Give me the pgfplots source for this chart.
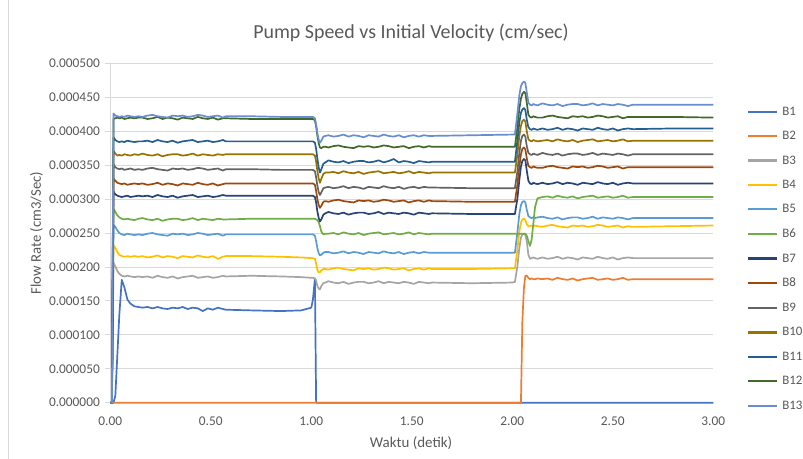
\documentclass[border=0pt]{standalone}
\usepackage{fontspec}
\setmainfont{Carlito}
\usepackage{pgfplots}
\usepackage{pgfplotstable}
\pgfplotsset{compat=1.18}
\definecolor{cB1}{HTML}{4472C4}
\definecolor{cB2}{HTML}{ED7D31}
\definecolor{cB3}{HTML}{A5A5A5}
\definecolor{cB4}{HTML}{FFC000}
\definecolor{cB5}{HTML}{5B9BD5}
\definecolor{cB6}{HTML}{70AD47}
\definecolor{cB7}{HTML}{264478}
\definecolor{cB8}{HTML}{9E480E}
\definecolor{cB9}{HTML}{636363}
\definecolor{cB10}{HTML}{997300}
\definecolor{cB11}{HTML}{255E91}
\definecolor{cB12}{HTML}{43682B}
\definecolor{cB13}{HTML}{698ED0}
\definecolor{txt}{HTML}{595959}
\definecolor{gridc}{HTML}{D9D9D9}

\pgfplotstableread{
x B1 B2 B3 B4 B5 B6 B7 B8 B9 B10 B11 B12 B13
0 0 0 0 0 0 0 0 0 0 0 0 0 0
0.008 0 0 0 0 0 0 0 0 0 0 0 0 0
0.016 0 0 0.000206 0.000232 0.000262 0.000286 0.000311 0.000330 0.000351 0.000371 0.000391 0.000418 0.000426
0.025 0.000010 0 0.000201 0.000228 0.000259 0.000281 0.000307 0.000327 0.000347 0.000367 0.000387 0.000419 0.000423
0.035 0.000070 0 0.000194 0.000222 0.000254 0.000276 0.000305 0.000324 0.000345 0.000364 0.000385 0.000420 0.000422
0.045 0.000130 0 0.000190 0.000218 0.000250 0.000273 0.000304 0.000323 0.000344 0.000365 0.000384 0.000419 0.000421
0.057 0.000181 0 0.000187 0.000216 0.000248 0.000271 0.000303 0.000322 0.000345 0.000364 0.000385 0.000420 0.000422
0.07 0.000170 0 0.000186 0.000215 0.000247 0.000270 0.000304 0.000323 0.000343 0.000366 0.000384 0.000418 0.000421
0.085 0.000152 0 0.000187 0.000216 0.000249 0.000271 0.000305 0.000321 0.000344 0.000365 0.000386 0.000419 0.000423
0.1 0.000146 0 0.000186 0.000215 0.000248 0.000270 0.000303 0.000322 0.000345 0.000364 0.000385 0.000420 0.000422
0.12 0.000142 0 0.000185 0.000216 0.000247 0.000269 0.000304 0.000323 0.000343 0.000366 0.000384 0.000419 0.000421
0.14 0.000141 0 0.000186 0.000215 0.000248 0.000271 0.000305 0.000322 0.000344 0.000365 0.000385 0.000420 0.000422
0.16 0.000140 0 0.000185 0.000216 0.000247 0.000272 0.000304 0.000323 0.000343 0.000367 0.000385 0.000420 0.000421
0.185 0.000141 0 0.000186 0.000214 0.000249 0.000270 0.000305 0.000321 0.000345 0.000365 0.000386 0.000418 0.000423
0.21 0.000139 0 0.000184 0.000215 0.000250 0.000269 0.000303 0.000322 0.000346 0.000364 0.000384 0.000419 0.000424
0.235 0.000141 0 0.000187 0.000217 0.000248 0.000271 0.000306 0.000324 0.000344 0.000366 0.000387 0.000421 0.000422
0.26 0.000139 0 0.000185 0.000214 0.000247 0.000268 0.000304 0.000321 0.000343 0.000363 0.000385 0.000418 0.000421
0.285 0.000138 0 0.000184 0.000216 0.000246 0.000270 0.000303 0.000323 0.000342 0.000365 0.000384 0.000420 0.000420
0.31 0.000140 0 0.000186 0.000215 0.000249 0.000271 0.000305 0.000322 0.000345 0.000366 0.000386 0.000419 0.000423
0.335 0.000139 0 0.000183 0.000213 0.000248 0.000271 0.000302 0.000320 0.000344 0.000366 0.000383 0.000417 0.000422
0.36 0.000141 0 0.000185 0.000216 0.000249 0.000269 0.000304 0.000323 0.000345 0.000364 0.000385 0.000420 0.000423
0.385 0.000138 0 0.000186 0.000215 0.000247 0.000270 0.000305 0.000322 0.000343 0.000365 0.000386 0.000419 0.000421
0.41 0.000140 0 0.000187 0.000214 0.000248 0.000272 0.000306 0.000321 0.000344 0.000367 0.000387 0.000418 0.000422
0.435 0.000139 0 0.000184 0.000217 0.000250 0.000269 0.000303 0.000324 0.000346 0.000364 0.000384 0.000421 0.000424
0.46 0.000135 0 0.000185 0.000215 0.000249 0.000271 0.000304 0.000322 0.000345 0.000366 0.000385 0.000419 0.000423
0.485 0.000139 0 0.000186 0.000214 0.000247 0.000270 0.000305 0.000321 0.000343 0.000365 0.000386 0.000418 0.000421
0.51 0.000137 0 0.000184 0.000216 0.000248 0.000269 0.000303 0.000323 0.000344 0.000364 0.000384 0.000420 0.000422
0.535 0.000140 0 0.000185 0.000212 0.000249 0.000271 0.000304 0.000320 0.000345 0.000366 0.000385 0.000417 0.000423
0.56 0.000138 0 0.000187 0.000215 0.000246 0.000270 0.000306 0.000322 0.000342 0.000365 0.000387 0.000419 0.000420
0.575 0.000137 0 0.000186 0.000216 0.000248 0.000270 0.000305 0.000323 0.000344 0.000366 0.000385 0.000419 0.000422
0.7 0.000136 0 0.000187 0.000216 0.000248 0.000271 0.000305 0.000323 0.000344 0.000366 0.000385 0.000418 0.000422
0.85 0.000135 0 0.000186 0.000215 0.000248 0.000271 0.000305 0.000323 0.000343 0.000366 0.000385 0.000418 0.000421
0.95 0.000136 0 0.000185 0.000214 0.000248 0.000271 0.000305 0.000323 0.000343 0.000366 0.000385 0.000418 0.000421
1.0 0.000140 0 0.000184 0.000213 0.000248 0.000271 0.000305 0.000323 0.000343 0.000366 0.000385 0.000418 0.000421
1.008 0.000152 0 0.000184 0.000213 0.000248 0.000271 0.000305 0.000323 0.000343 0.000366 0.000385 0.000418 0.000421
1.018 0.000183 0 0.000183 0.000212 0.000246 0.000271 0.000303 0.000321 0.000341 0.000364 0.000383 0.000416 0.000419
1.024 0 0 0.000180 0.000205 0.000238 0.000270 0.000295 0.000312 0.000332 0.000355 0.000374 0.000407 0.000410
1.03 0 0 0.000172 0.000196 0.000228 0.000269 0.000282 0.000300 0.000320 0.000342 0.000360 0.000394 0.000397
1.037 0 0 0.000168 0.000192 0.000220 0.000266 0.000272 0.000291 0.000310 0.000330 0.000346 0.000382 0.000387
1.043 0 0 0.000167 0.000192 0.000217 0.000260 0.000267 0.000287 0.000306 0.000324 0.000339 0.000376 0.000383
1.05 0 0 0.000172 0.000195 0.000218 0.000252 0.000270 0.000290 0.000310 0.000330 0.000344 0.000375 0.000386
1.06 0 0 0.000176 0.000197 0.000221 0.000248 0.000277 0.000296 0.000316 0.000337 0.000352 0.000377 0.000392
1.07 0 0 0.000177 0.000197 0.000222 0.000249 0.000279 0.000297 0.000317 0.000339 0.000354 0.000377 0.000393
1.085 0 0 0.000179 0.000196 0.000222 0.000249 0.000281 0.000296 0.000318 0.000339 0.000357 0.000376 0.000394
1.11 0 0 0.000177 0.000198 0.000220 0.000250 0.000279 0.000298 0.000316 0.000340 0.000355 0.000378 0.000392
1.135 0 0 0.000176 0.000199 0.000221 0.000248 0.000278 0.000299 0.000317 0.000338 0.000354 0.000379 0.000393
1.16 0 0 0.000178 0.000197 0.000223 0.000251 0.000280 0.000297 0.000319 0.000341 0.000356 0.000377 0.000395
1.185 0 0 0.000175 0.000196 0.000220 0.000249 0.000277 0.000296 0.000316 0.000339 0.000353 0.000376 0.000392
1.21 0 0 0.000177 0.000195 0.000222 0.000248 0.000279 0.000295 0.000318 0.000338 0.000355 0.000375 0.000394
1.235 0 0 0.000178 0.000198 0.000221 0.000250 0.000280 0.000298 0.000317 0.000340 0.000356 0.000378 0.000393
1.26 0 0 0.000178 0.000197 0.000219 0.000247 0.000280 0.000297 0.000315 0.000337 0.000356 0.000377 0.000391
1.285 0 0 0.000176 0.000198 0.000222 0.000249 0.000278 0.000298 0.000318 0.000339 0.000354 0.000378 0.000394
1.31 0 0 0.000177 0.000196 0.000221 0.000250 0.000279 0.000296 0.000317 0.000340 0.000355 0.000376 0.000393
1.335 0 0 0.000179 0.000197 0.000220 0.000251 0.000281 0.000297 0.000316 0.000341 0.000357 0.000377 0.000392
1.36 0 0 0.000176 0.000199 0.000223 0.000248 0.000278 0.000299 0.000319 0.000338 0.000354 0.000379 0.000395
1.385 0 0 0.000178 0.000198 0.000221 0.000249 0.000280 0.000298 0.000317 0.000339 0.000356 0.000378 0.000393
1.41 0 0 0.000177 0.000196 0.000220 0.000250 0.000279 0.000296 0.000316 0.000340 0.000359 0.000376 0.000392
1.435 0 0 0.000176 0.000197 0.000222 0.000248 0.000278 0.000297 0.000318 0.000338 0.000354 0.000377 0.000394
1.46 0 0 0.000178 0.000198 0.000219 0.000249 0.000280 0.000298 0.000315 0.000339 0.000356 0.000378 0.000391
1.485 0 0 0.000177 0.000195 0.000221 0.000251 0.000279 0.000295 0.000317 0.000341 0.000355 0.000375 0.000393
1.51 0 0 0.000175 0.000197 0.000222 0.000248 0.000277 0.000297 0.000318 0.000338 0.000353 0.000377 0.000394
1.535 0 0 0.000178 0.000198 0.000220 0.000250 0.000280 0.000298 0.000316 0.000340 0.000356 0.000378 0.000392
1.56 0 0 0.000177 0.000196 0.000222 0.000249 0.000279 0.000296 0.000318 0.000339 0.000355 0.000376 0.000394
1.585 0 0 0.000176 0.000198 0.000221 0.000248 0.000278 0.000298 0.000317 0.000338 0.000354 0.000378 0.000393
1.6 0 0 0.000177 0.000197 0.000221 0.000249 0.000279 0.000297 0.000317 0.000339 0.000355 0.000377 0.000393
1.8 0 0 0.000176 0.000197 0.000221 0.000249 0.000278 0.000296 0.000316 0.000339 0.000355 0.000377 0.000394
2.0 0 0 0.000177 0.000198 0.000221 0.000249 0.000278 0.000296 0.000316 0.000339 0.000355 0.000377 0.000395
2.013 0 0 0.000178 0.000198 0.000221 0.000249 0.000278 0.000296 0.000316 0.000339 0.000355 0.000377 0.000395
2.025 0 0 0.000200 0.000225 0.000250 0.000249 0.000300 0.000320 0.000340 0.000365 0.000385 0.000405 0.000425
2.035 0 0 0.000228 0.000252 0.000278 0.000249 0.000328 0.000348 0.000368 0.000393 0.000413 0.000433 0.000453
2.043 0 0 0.000243 0.000265 0.000291 0.000249 0.000348 0.000366 0.000386 0.000408 0.000427 0.000448 0.000466
2.05 0 0.000120 0.000248 0.000270 0.000296 0.000249 0.000356 0.000374 0.000393 0.000415 0.000432 0.000455 0.000471
2.058 0 0.000170 0.000249 0.000271 0.000297 0.000249 0.000359 0.000376 0.000395 0.000417 0.000434 0.000458 0.000473
2.065 0 0.000187 0.000247 0.000269 0.000295 0.000249 0.000357 0.000373 0.000392 0.000414 0.000431 0.000456 0.000471
2.072 0 0.000187 0.000238 0.000263 0.000284 0.000246 0.000342 0.000360 0.000378 0.000400 0.000417 0.000442 0.000457
2.08 0 0.000184 0.000218 0.000260 0.000275 0.000238 0.000327 0.000349 0.000368 0.000388 0.000406 0.000424 0.000442
2.088 0 0.000182 0.000212 0.000260 0.000273 0.000231 0.000323 0.000347 0.000366 0.000386 0.000403 0.000421 0.000439
2.096 0 0.000183 0.000213 0.000261 0.000272 0.000240 0.000322 0.000346 0.000365 0.000385 0.000402 0.000420 0.000438
2.105 0 0.000182 0.000214 0.000260 0.000273 0.000265 0.000324 0.000348 0.000367 0.000387 0.000404 0.000422 0.000440
2.113 0 0.000182 0.000213 0.000261 0.000272 0.000288 0.000323 0.000347 0.000366 0.000386 0.000403 0.000421 0.000439
2.125 0 0.000183 0.000212 0.000260 0.000273 0.000301 0.000322 0.000346 0.000365 0.000385 0.000402 0.000420 0.000438
2.15 0 0.000182 0.000214 0.000259 0.000274 0.000303 0.000324 0.000346 0.000368 0.000386 0.000404 0.000420 0.000441
2.175 0 0.000183 0.000212 0.000261 0.000272 0.000304 0.000322 0.000348 0.000366 0.000387 0.000402 0.000422 0.000439
2.2 0 0.000181 0.000213 0.000262 0.000271 0.000302 0.000323 0.000349 0.000365 0.000385 0.000403 0.000423 0.000438
2.225 0 0.000184 0.000215 0.000260 0.000273 0.000305 0.000325 0.000347 0.000367 0.000388 0.000405 0.000421 0.000440
2.25 0 0.000182 0.000212 0.000259 0.000270 0.000303 0.000322 0.000346 0.000364 0.000386 0.000402 0.000420 0.000437
2.275 0 0.000181 0.000214 0.000258 0.000272 0.000302 0.000324 0.000345 0.000366 0.000385 0.000404 0.000419 0.000439
2.3 0 0.000183 0.000213 0.000261 0.000273 0.000304 0.000323 0.000348 0.000367 0.000387 0.000403 0.000422 0.000440
2.325 0 0.000180 0.000211 0.000260 0.000273 0.000301 0.000321 0.000347 0.000367 0.000384 0.000401 0.000421 0.000440
2.35 0 0.000182 0.000214 0.000261 0.000271 0.000303 0.000324 0.000348 0.000365 0.000386 0.000404 0.000422 0.000438
2.375 0 0.000183 0.000213 0.000259 0.000272 0.000304 0.000323 0.000346 0.000366 0.000387 0.000403 0.000420 0.000439
2.4 0 0.000184 0.000212 0.000260 0.000274 0.000305 0.000322 0.000347 0.000368 0.000388 0.000402 0.000421 0.000441
2.425 0 0.000181 0.000215 0.000262 0.000271 0.000302 0.000325 0.000349 0.000365 0.000385 0.000405 0.000423 0.000438
2.45 0 0.000182 0.000213 0.000261 0.000273 0.000303 0.000323 0.000348 0.000367 0.000386 0.000403 0.000422 0.000440
2.475 0 0.000183 0.000212 0.000259 0.000272 0.000304 0.000322 0.000346 0.000366 0.000387 0.000402 0.000420 0.000439
2.5 0 0.000181 0.000214 0.000260 0.000271 0.000302 0.000324 0.000347 0.000365 0.000385 0.000404 0.000421 0.000438
2.525 0 0.000182 0.000211 0.000261 0.000273 0.000303 0.000321 0.000348 0.000367 0.000386 0.000401 0.000422 0.000440
2.55 0 0.000184 0.000213 0.000258 0.000272 0.000305 0.000323 0.000345 0.000366 0.000388 0.000403 0.000419 0.000439
2.575 0 0.000181 0.000214 0.000260 0.000270 0.000302 0.000324 0.000347 0.000364 0.000385 0.000404 0.000421 0.000437
2.6 0 0.000182 0.000213 0.000259 0.000272 0.000303 0.000323 0.000347 0.000366 0.000386 0.000403 0.000421 0.000439
2.8 0 0.000182 0.000213 0.000260 0.000272 0.000303 0.000323 0.000347 0.000366 0.000386 0.000404 0.000421 0.000439
3.0 0 0.000182 0.000213 0.000261 0.000272 0.000303 0.000323 0.000347 0.000366 0.000386 0.000404 0.000420 0.000439
}\flowdata

\begin{document}
\begin{tikzpicture}
\useasboundingbox (0,0) rectangle (803bp,459bp);
\draw[gridc, line width=0.8bp] (8bp,0) -- (8bp,459bp);
\begin{axis}[
  at={(110.3bp,56.3bp)}, anchor=south west,
  scale only axis, width=603bp, height=339.4bp,
  xmin=0, xmax=3, ymin=0, ymax=0.0005,
  clip=false,
  axis x line*=bottom, axis y line*=left,
  axis line style={draw=gridc, line width=0.8bp},
  xtick={0,0.5,1,1.5,2,2.5,3},
  ytick={0,0.00005,0.0001,0.00015,0.0002,0.00025,0.0003,0.00035,0.0004,0.00045,0.0005},
  scaled y ticks=false, scaled x ticks=false,
  /pgf/number format/assume math mode=true,
  xticklabel style={/pgf/number format/fixed, /pgf/number format/fixed zerofill, /pgf/number format/precision=2, yshift=-6bp},
  yticklabel style={/pgf/number format/fixed, /pgf/number format/fixed zerofill, /pgf/number format/precision=6, xshift=-2bp},
  tick label style={font=\fontsize{13.4}{15}\selectfont, text=txt},
  ymajorgrids, grid style={gridc, line width=0.8bp},
  xtick style={draw=none},
  ytick style={draw=gridc, line width=0.8bp},
  tick align=outside, major tick length=5bp,
  title={Pump Speed vs Initial Velocity (cm/sec)},
  title style={at={(0.4987,1.072)}, anchor=center, font=\fontsize{20}{23}\selectfont, text=txt},
  xlabel={Waktu (detik)},
  xlabel style={at={(0.4987,-0.119)}, anchor=center, font=\fontsize{15}{17}\selectfont, text=txt},
  ylabel={Flow Rate (cm3/Sec)},
  ylabel style={at={(-0.1225,0.5)}, anchor=center, font=\fontsize{14.8}{17}\selectfont, text=txt},
  no markers,
  every axis plot/.append style={line width=1.7bp, line join=round},
  legend cell align=left,
  legend image code/.code={\draw[#1, line width=2.2bp] (0bp,0bp) -- (29bp,0bp);},
  legend style={at={(1.056,0.878)}, anchor=north west, draw=none, fill=none,
    inner sep=0pt, outer sep=0pt, font=\fontsize{13}{15}\selectfont, text=txt,
    row sep=10.6bp, column sep=2bp},
]
\addplot[cB1] table[x=x,y=B1]{\flowdata};
\addplot[cB2] table[x=x,y=B2]{\flowdata};
\addplot[cB3] table[x=x,y=B3]{\flowdata};
\addplot[cB4] table[x=x,y=B4]{\flowdata};
\addplot[cB5] table[x=x,y=B5]{\flowdata};
\addplot[cB6] table[x=x,y=B6]{\flowdata};
\addplot[cB7] table[x=x,y=B7]{\flowdata};
\addplot[cB8] table[x=x,y=B8]{\flowdata};
\addplot[cB9] table[x=x,y=B9]{\flowdata};
\addplot[cB10] table[x=x,y=B10]{\flowdata};
\addplot[cB11] table[x=x,y=B11]{\flowdata};
\addplot[cB12] table[x=x,y=B12]{\flowdata};
\addplot[cB13] table[x=x,y=B13]{\flowdata};
\legend{B1,B2,B3,B4,B5,B6,B7,B8,B9,B10,B11,B12,B13}
\end{axis}
\end{tikzpicture}
\end{document}
